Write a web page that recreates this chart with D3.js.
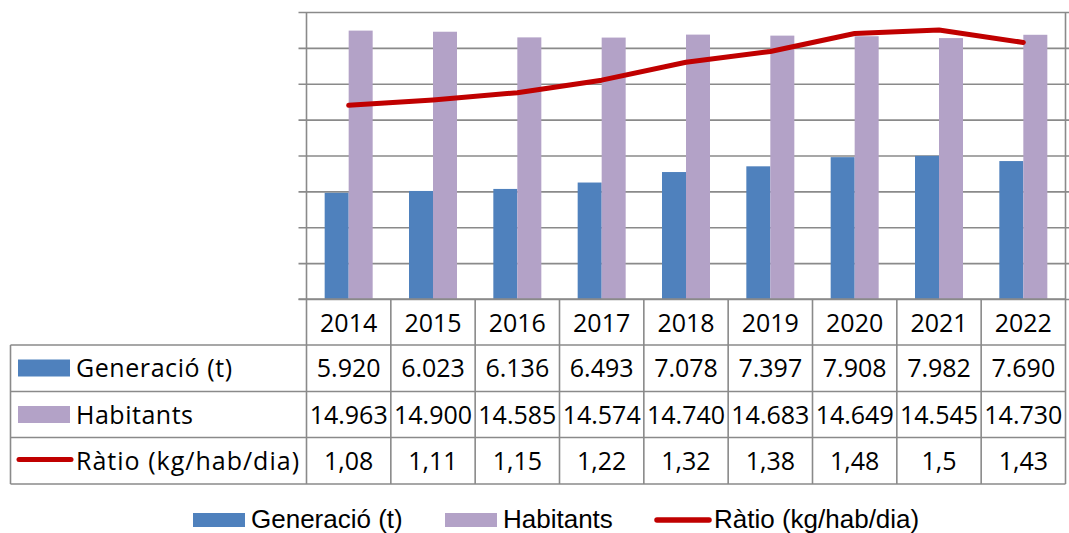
<!DOCTYPE html>
<html>
<head>
<meta charset="utf-8">
<script src="https://cdn.jsdelivr.net/npm/d3@7"></script>
<style>
  html, body { margin: 0; padding: 0; background: #fff; }
  svg { display: block; }
</style>
</head>
<body>
<svg id="chart" width="1069" height="533"></svg>
<script>
// ---- Data ----
const years = ["2014", "2015", "2016", "2017", "2018", "2019", "2020", "2021", "2022"];
const generacio = [5920, 6023, 6136, 6493, 7078, 7397, 7908, 7982, 7690];
const habitants = [14963, 14900, 14585, 14574, 14740, 14683, 14649, 14545, 14730];
const ratio = [1.08, 1.11, 1.15, 1.22, 1.32, 1.38, 1.48, 1.5, 1.43];
const seriesNames = ["Generació (t)", "Habitants", "Ràtio (kg/hab/dia)"];
const primaryTicks = [0, 2000, 4000, 6000, 8000, 10000, 12000, 14000, 16000];
const secondaryDomain = [0, 1.6];

// ---- Style ----
const C_GEN = "#4F81BD", C_HAB = "#B3A2C7", C_RAT = "#C00000", C_GRID = "#8a8a8a";
const tableFont = "'Open Sans', 'Noto Sans', sans-serif";
const legendFont = "'Liberation Sans', Arial, sans-serif";

const loc = d3.formatLocale({decimal: ",", thousands: ".", grouping: [3], currency: ["", " €"]});
const fmtInt = loc.format(",");
const fmtRatio = loc.format(".2~f");

const svg = d3.select("#chart");
const plot = {left: 306.5, right: 1065.5, top: 12, bottom: 299};

const x = d3.scaleBand().domain(years).range([plot.left, plot.right]).paddingInner(0).paddingOuter(0);
const barW = 24;
const xs = d3.scaleBand().domain(["gen", "hab"]).range([-barW, barW]);
const y = d3.scaleLinear().domain([0, 16000]).range([plot.bottom, plot.top]);
const y2 = d3.scaleLinear().domain(secondaryDomain).range([plot.bottom, plot.top]);

// gridlines (primary axis, hidden labels, outward ticks)
const gridAxis = d3.axisLeft(y).tickValues(primaryTicks).tickFormat("")
  .tickSize(-(plot.right - plot.left) - 8).tickSizeOuter(0);
const gg = svg.append("g").attr("transform", `translate(${plot.left},0)`).call(gridAxis);
gg.selectAll(".tick line").attr("stroke", C_GRID).attr("stroke-width", 1.6)
  .attr("x1", -8);
gg.select(".domain").remove();

// bars
const gBars = svg.append("g");
years.forEach((yr, i) => {
  const cx = x(yr) + x.bandwidth() / 2;
  gBars.append("rect").attr("x", cx + xs("gen")).attr("width", xs.bandwidth())
    .attr("y", y(generacio[i])).attr("height", y(0) - y(generacio[i])).attr("fill", C_GEN);
  gBars.append("rect").attr("x", cx + xs("hab")).attr("width", xs.bandwidth())
    .attr("y", y(habitants[i])).attr("height", y(0) - y(habitants[i])).attr("fill", C_HAB);
});

// line
const line = d3.line().x((d, i) => x(years[i]) + x.bandwidth() / 2).y(d => y2(d));
svg.append("path").datum(ratio).attr("d", line).attr("fill", "none")
  .attr("stroke", C_RAT).attr("stroke-width", 5).attr("stroke-linecap", "round").attr("stroke-linejoin", "round");

// ---- Data table ----
const tbl = {left: 10.5, rows: [299, 345, 391.5, 437.5, 484]};
const lines = svg.append("g").attr("stroke", C_GRID).attr("stroke-width", 1.6).attr("fill", "none");
lines.append("line").attr("x1", plot.left).attr("x2", plot.left).attr("y1", plot.top).attr("y2", tbl.rows[4]);
lines.append("line").attr("x1", plot.right).attr("x2", plot.right).attr("y1", plot.top).attr("y2", tbl.rows[4]);
years.forEach((yr, i) => {
  if (i === 0) return;
  lines.append("line").attr("x1", x(yr)).attr("x2", x(yr)).attr("y1", tbl.rows[0]).attr("y2", tbl.rows[4]);
});
lines.append("line").attr("x1", plot.left - 8).attr("x2", plot.right).attr("y1", tbl.rows[0]).attr("y2", tbl.rows[0]);
[1, 2, 3, 4].forEach(r => {
  lines.append("line").attr("x1", tbl.left).attr("x2", plot.right).attr("y1", tbl.rows[r]).attr("y2", tbl.rows[r]);
});
lines.append("line").attr("x1", tbl.left).attr("x2", tbl.left).attr("y1", tbl.rows[1]).attr("y2", tbl.rows[4]);

const tText = svg.append("g").attr("font-family", tableFont).attr("font-size", 25).attr("fill", "#000");
years.forEach(yr => {
  tText.append("text").attr("x", x(yr) + x.bandwidth() / 2).attr("y", 332)
    .attr("text-anchor", "middle").text(yr);
});
const rowsData = [generacio.map(fmtInt), habitants.map(fmtInt), ratio.map(fmtRatio)];
const labelLens = [156, 117, 223];
rowsData.forEach((vals, r) => {
  const cy = (tbl.rows[r + 1] + tbl.rows[r + 2]) / 2;
  vals.forEach((v, i) => {
    tText.append("text").attr("x", x(years[i]) + x.bandwidth() / 2).attr("y", cy + 9)
      .attr("text-anchor", "middle").text(v);
  });
  tText.append("text").attr("x", 76).attr("y", cy + 9)
    .attr("textLength", labelLens[r]).attr("lengthAdjust", "spacing").text(seriesNames[r]);
});
const keyG = svg.append("g");
keyG.append("rect").attr("x", 18).attr("y", 359.5).attr("width", 52).attr("height", 17).attr("fill", C_GEN);
keyG.append("rect").attr("x", 18).attr("y", 406).attr("width", 52).attr("height", 17).attr("fill", C_HAB);
keyG.append("line").attr("x1", 19).attr("x2", 71).attr("y1", 459.5).attr("y2", 459.5)
  .attr("stroke", C_RAT).attr("stroke-width", 5).attr("stroke-linecap", "round");

// ---- Bottom legend ----
const lg = svg.append("g").attr("font-family", legendFont).attr("font-size", 26).attr("fill", "#000");
lg.append("rect").attr("x", 193).attr("y", 513).attr("width", 52).attr("height", 14).attr("fill", C_GEN);
lg.append("text").attr("x", 251).attr("y", 528).text(seriesNames[0]);
lg.append("rect").attr("x", 445).attr("y", 513).attr("width", 52).attr("height", 14).attr("fill", C_HAB);
lg.append("text").attr("x", 503).attr("y", 528).text(seriesNames[1]);
lg.append("line").attr("x1", 657).attr("x2", 709).attr("y1", 520).attr("y2", 520)
  .attr("stroke", C_RAT).attr("stroke-width", 5.5).attr("stroke-linecap", "round");
lg.append("text").attr("x", 714).attr("y", 528).text(seriesNames[2]);
</script>
</body>
</html>
